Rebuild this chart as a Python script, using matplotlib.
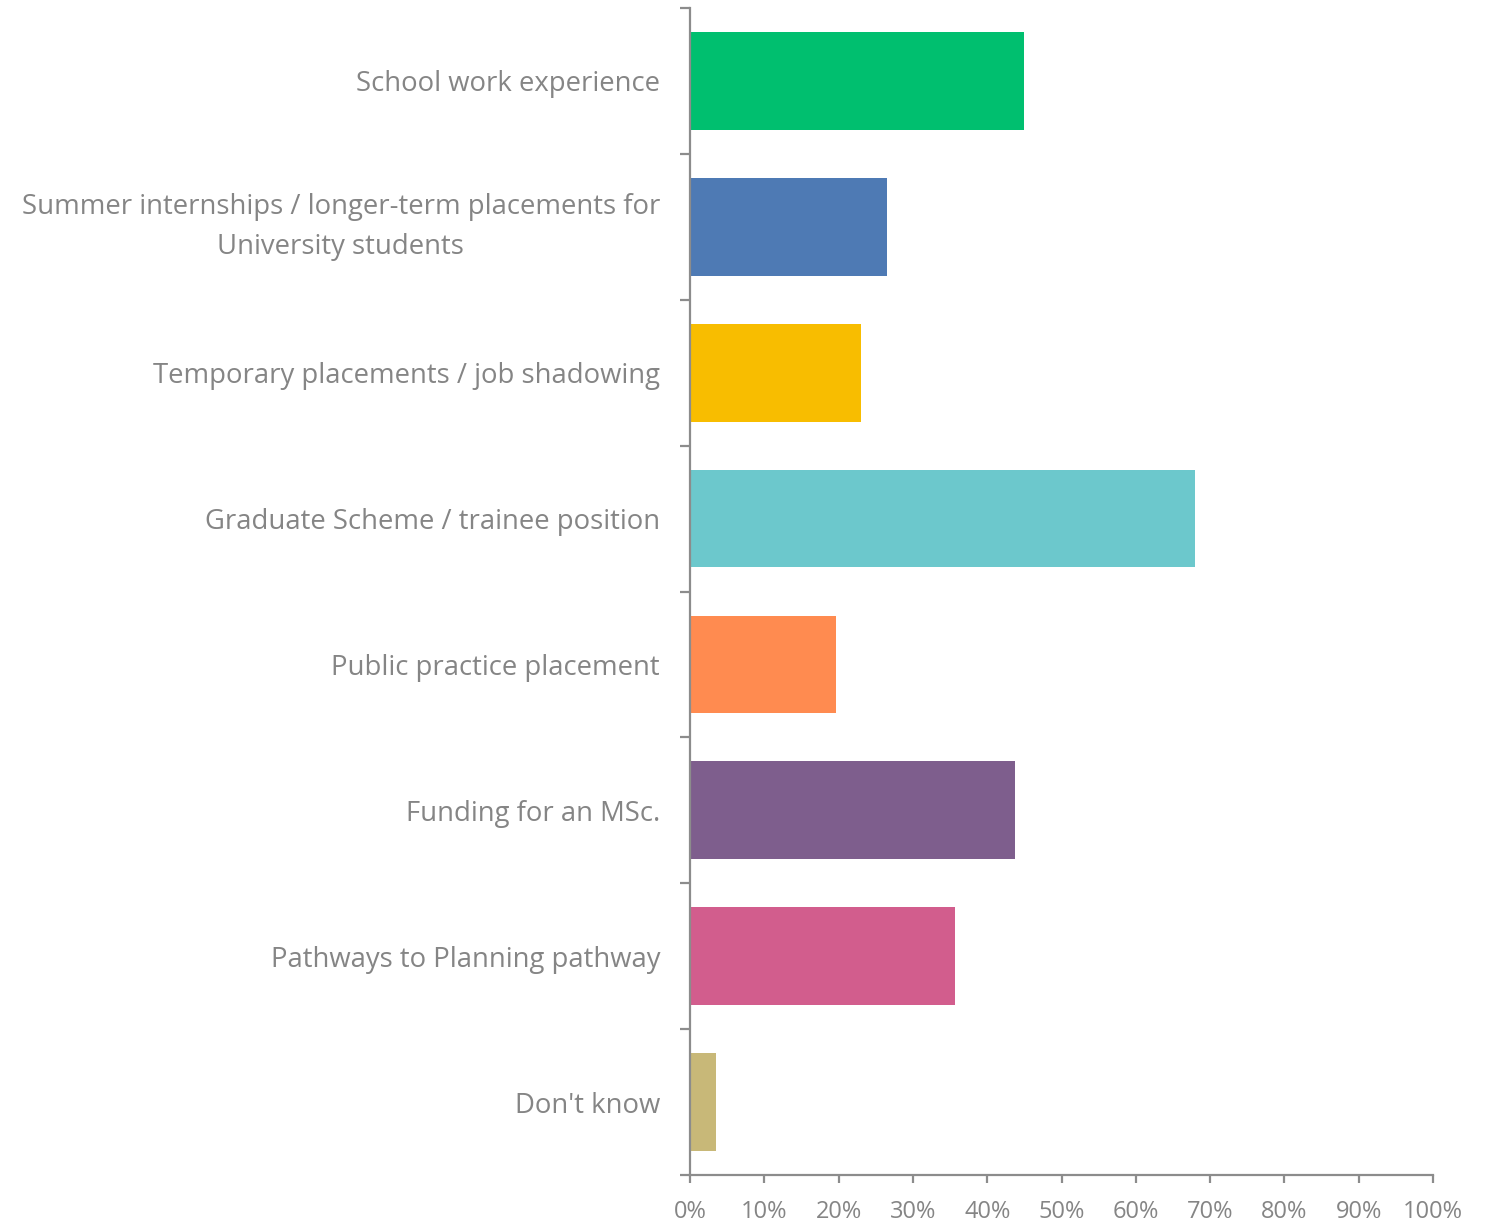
import matplotlib
matplotlib.use("Agg")
import matplotlib.pyplot as plt
from matplotlib.ticker import PercentFormatter

categories = [
    "School work experience",
    "Summer internships / longer-term placements for\nUniversity students",
    "Temporary placements / job shadowing",
    "Graduate Scheme / trainee position",
    "Public practice placement",
    "Funding for an MSc.",
    "Pathways to Planning pathway",
    "Don't know",
]
values = [45.0, 26.5, 23.0, 68.0, 19.6, 43.7, 35.7, 3.5]
colors = ["#00BF6F", "#4E7AB4", "#F8BD00", "#6CC8CC", "#FF8B50",
          "#7E5E8D", "#D25D8D", "#C8B878"]

text_color = "#858585"
axis_color = "#8C8C8C"

plt.rcParams["font.family"] = ["Open Sans", "DejaVu Sans"]

fig = plt.figure(figsize=(14.89, 12.23), dpi=100)
ax = fig.add_axes([0.4634, 0.0392, 0.4990, 0.9543])

ypos = list(range(len(categories)))
ax.barh(ypos, values, height=0.67, color=colors, zorder=2)
ax.set_ylim(len(categories) - 0.5, -0.5)
ax.set_xlim(0, 100)

ax.set_xticks(range(0, 101, 10))
ax.xaxis.set_major_formatter(PercentFormatter(decimals=0))
ax.set_yticks(ypos)
labels = ax.set_yticklabels(categories, ha="right", multialignment="center",
                            linespacing=1.55)
for lab in labels:
    if "\n" in lab.get_text():
        lab.set_va("center")
ax.set_yticks([i - 0.5 for i in range(len(categories) + 1)], minor=True)

ax.tick_params(axis="y", which="major", length=0, pad=21.6, labelsize=19.8,
               labelcolor=text_color)
ax.tick_params(axis="y", which="minor", length=7, width=1.6, color=axis_color)
ax.tick_params(axis="x", length=6, width=1.6, color=axis_color, pad=12,
               labelsize=17, labelcolor=text_color)

for side in ("top", "right"):
    ax.spines[side].set_visible(False)
for side in ("left", "bottom"):
    ax.spines[side].set_color(axis_color)
    ax.spines[side].set_linewidth(1.6)

fig.savefig("out.png", dpi=100, facecolor="white")
